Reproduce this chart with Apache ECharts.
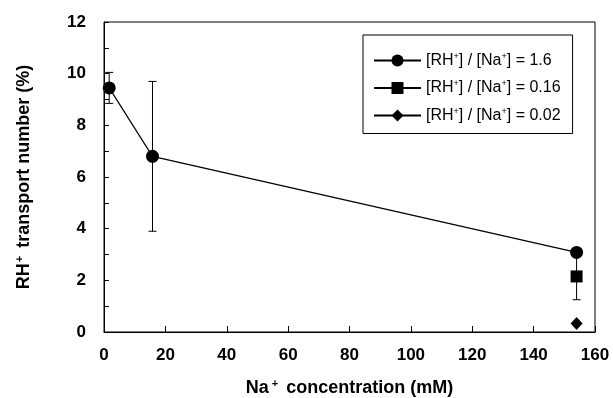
<!DOCTYPE html>
<html>
<head>
<meta charset="utf-8">
<script src="https://cdn.jsdelivr.net/npm/echarts@6/dist/echarts.min.js"></script>
<style>
  html, body { margin: 0; padding: 0; background: #fff; }
  #chart { width: 613px; height: 398px; }
</style>
</head>
<body>
<div id="chart"></div>
<script>
// data
const naConc = [1.7, 15.8, 154];
const ratio16 = [9.45, 6.8, 3.08];
const ratio16Err = [0.6, 2.9, 0];
const ratio016 = [[154, 2.15]];
const ratio016Err = [0.9];
const ratio002 = [[154, 0.33]];
const xTicks = [0, 20, 40, 60, 80, 100, 120, 140, 160];
const yTicks = [0, 2, 4, 6, 8, 10, 12];
const seriesNames = [
  "[RH{sup|+}] / [Na{sup|+}] = 1.6",
  "[RH{sup|+}] / [Na{sup|+}] = 0.16",
  "[RH{sup|+}] / [Na{sup|+}] = 0.02"
];

const font = "Liberation Sans, Arial, Helvetica, sans-serif";

// error bars as [x, low, high]
const errBars = [];
naConc.forEach((x, i) => {
  if (ratio16Err[i] > 0) errBars.push([x, ratio16[i] - ratio16Err[i], ratio16[i] + ratio16Err[i]]);
});
ratio016.forEach((p, i) => {
  errBars.push([p[0], p[1] - ratio016Err[i], p[1] + ratio016Err[i]]);
});

var chart = echarts.init(document.getElementById("chart"), null, { renderer: "canvas" });

chart.setOption({
  animation: false,
  backgroundColor: "#fff",
  textStyle: { fontFamily: font, color: "#000" },
  grid: {
    left: 104, right: 18, top: 22, bottom: 66,
    outerBoundsMode: "none",
    show: true, borderColor: "#000", borderWidth: 1, backgroundColor: "transparent"
  },
  legend: {
    orient: "vertical",
    left: 363, top: 35,
    padding: [17, 12, 10, 10],
    itemGap: 11,
    itemWidth: 47, itemHeight: 15,
    borderColor: "#000", borderWidth: 1,
    data: seriesNames,
    textStyle: {
      fontFamily: font, fontSize: 16, color: "#000",
      rich: {
        sup: { fontSize: 9, verticalAlign: "top", padding: [0, 0, 8, 0] }
      }
    }
  },
  xAxis: {
    type: "value",
    min: xTicks[0], max: xTicks[xTicks.length - 1], interval: 20,
    name: "Na{sup|+} concentration (mM)",
    nameLocation: "middle", nameGap: 46,
    nameTextStyle: {
      fontFamily: font, fontSize: 18, fontWeight: "bold", color: "#000",
      rich: { sup: { fontSize: 11, fontWeight: "bold", verticalAlign: "top", padding: [0, 3, 9, 3] } }
    },
    axisLine: { lineStyle: { color: "#000", width: 1 } },
    axisTick: { inside: true, length: 6, lineStyle: { color: "#000" } },
    axisLabel: { margin: 15, fontFamily: font, fontSize: 17, fontWeight: "bold", color: "#000" },
    splitLine: { show: false }
  },
  yAxis: {
    type: "value",
    min: yTicks[0], max: yTicks[yTicks.length - 1], interval: 2,
    name: "RH{sup|+} transport number (%)",
    nameLocation: "middle", nameGap: 70,
    nameTextStyle: {
      fontFamily: font, fontSize: 18, fontWeight: "bold", color: "#000",
      rich: { sup: { fontSize: 11, fontWeight: "bold", verticalAlign: "top", padding: [0, 3, 9, 1] } }
    },
    axisLine: { show: true, lineStyle: { color: "#000", width: 1 } },
    axisTick: { inside: true, length: 5, lineStyle: { color: "#000" } },
    minorTick: { show: true, splitNumber: 2, length: 5, lineStyle: { color: "#000" } },
    axisLabel: { margin: 18, fontFamily: font, fontSize: 17, fontWeight: "bold", color: "#000" },
    splitLine: { show: false }
  },
  series: [
    {
      type: "custom",
      name: "err",
      z: 1,
      data: errBars,
      renderItem: function (params, api) {
        const x = api.value(0);
        const lo = api.coord([x, api.value(1)]);
        const hi = api.coord([x, api.value(2)]);
        const w = 4;
        const st = { stroke: "#000", lineWidth: 1 };
        return {
          type: "group",
          children: [
            { type: "line", shape: { x1: lo[0], y1: lo[1], x2: hi[0], y2: hi[1] }, style: st },
            { type: "line", shape: { x1: lo[0] - w, y1: lo[1], x2: lo[0] + w, y2: lo[1] }, style: st },
            { type: "line", shape: { x1: hi[0] - w, y1: hi[1], x2: hi[0] + w, y2: hi[1] }, style: st }
          ]
        };
      }
    },
    {
      type: "line",
      name: seriesNames[0],
      z: 3,
      data: naConc.map((x, i) => [x, ratio16[i]]),
      symbol: "circle", symbolSize: 13,
      lineStyle: { color: "#000", width: 1.2 },
      itemStyle: { color: "#000" }
    },
    {
      type: "line",
      name: seriesNames[1],
      z: 3,
      data: ratio016,
      symbol: "rect", symbolSize: 12,
      lineStyle: { color: "#000", width: 1.2 },
      itemStyle: { color: "#000" }
    },
    {
      type: "line",
      name: seriesNames[2],
      z: 3,
      data: ratio002,
      symbol: "diamond", symbolSize: [12, 13],
      lineStyle: { color: "#000", width: 1.2 },
      itemStyle: { color: "#000" }
    }
  ]
});
</script>
</body>
</html>
